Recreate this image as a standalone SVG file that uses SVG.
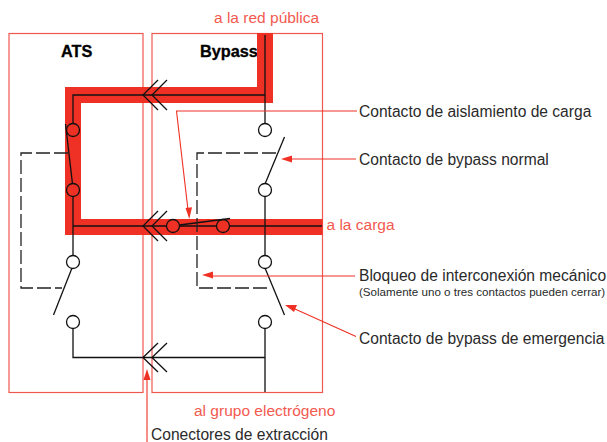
<svg xmlns="http://www.w3.org/2000/svg" width="607" height="442" viewBox="0 0 607 442">
<style>
.box{fill:none;stroke:#f0584f;stroke-width:1.2}
.bus{fill:none;stroke:#ee3124;stroke-width:16;stroke-linecap:butt;stroke-linejoin:miter}
.w{fill:none;stroke:#111;stroke-width:1.3}
.d{fill:none;stroke:#222;stroke-width:1.3;stroke-dasharray:14 4}
.c{fill:none;stroke:#111;stroke-width:1.3}
.cw{fill:#fff;stroke:#111;stroke-width:1.3}
.l{fill:none;stroke:#ee3124;stroke-width:1.1}
.a{fill:#ee3124}
text{font-family:"Liberation Sans",Arial,sans-serif}
.r{font-size:15.500px;fill:#f25a50}
.k{font-size:15.600px;fill:#2a2a2a}
.b{font-size:16.300px;font-weight:bold;fill:#000;stroke:#000;stroke-width:.3}
</style>
<g id="ats-box"><rect class="box" x="9" y="33.500" width="134" height="359"/><text class="b" x="61" y="57">ATS</text></g>
<g id="bypass-box"><rect class="box" x="152" y="33.500" width="170.500" height="359"/><text class="b" x="200" y="57">Bypass</text></g>
<g id="connectors">
<path class="bus" d="M265 33V95H73V227H322.500"/>
<path class="w" d="M265 35V124M265 95H73V124M73 196V256M73 226H167M179 226H217M229 226H322M265 196V256M73 328V357.500H265M265 328V392"/>
<path class="w" d="M158 80L143 95L158 110M167 80L152 95L167 110"/>
<path class="w" d="M158 211L143 226L158 241M167 211L152 226L167 241"/>
<path class="w" d="M158 343L143 357.500L158 372M167 343L152 357.500L167 372"/>
<path class="w" d="M65.500 124L72.500 184"/>
<path class="w" d="M284.500 137L265 184"/>
<path class="w" d="M179.500 225L230 218.500"/>
<path class="w" d="M72 268L53.500 315"/>
<path class="w" d="M265 268L284.500 315"/>
<path class="d" d="M68 153H21V288H62"/>
<path class="d" d="M276 153H197V288H271"/>
<path class="l" d="M357 111H176.500L188 210"/>
<path class="a" d="M189.300 219L185.500 208L192 207.300Z"/>
<path class="l" d="M356 159H290"/>
<path class="a" d="M281 159L292 155.500V162.500Z"/>
<path class="l" d="M355 276H210"/>
<path class="a" d="M202 275L213 271.500V278.500Z"/>
<path class="l" d="M356 336.500L295 309"/>
<path class="a" d="M285 305L297 305L294 312Z"/>
<path class="l" d="M147 442V377"/>
<path class="a" d="M147 369L150.500 380H143.500Z"/>
</g>
<g id="contacts">
<circle class="c" cx="73" cy="130" r="6.500"/>
<circle class="c" cx="73" cy="190" r="6.500"/>
<circle class="cw" cx="73" cy="262" r="6.500"/>
<circle class="cw" cx="73" cy="322" r="6.500"/>
<circle class="cw" cx="265" cy="130" r="6.500"/>
<circle class="cw" cx="265" cy="190" r="6.500"/>
<circle class="cw" cx="265" cy="262" r="6.500"/>
<circle class="cw" cx="265" cy="322" r="6.500"/>
<circle class="c" cx="173" cy="226" r="6.500"/>
<circle class="c" cx="223" cy="226" r="6.500"/>
</g>
<g id="labels">
<text class="r" x="214" y="23">a la red pública</text>
<text class="r" x="326.500" y="230">a la carga</text>
<text class="r" x="194" y="416">al grupo electrógeno</text>
<text class="k" x="359" y="117">Contacto de aislamiento de carga</text>
<text class="k" x="359" y="165">Contacto de bypass normal</text>
<text class="k" x="359" y="281">Bloqueo de interconexión mecánico</text>
<text x="359" y="296" font-size="11.600" fill="#2a2a2a">(Solamente uno o tres contactos pueden cerrar)</text>
<text class="k" x="359" y="344">Contacto de bypass de emergencia</text>
<text class="k" x="151" y="440">Conectores de extracción</text>
</g>
</svg>
